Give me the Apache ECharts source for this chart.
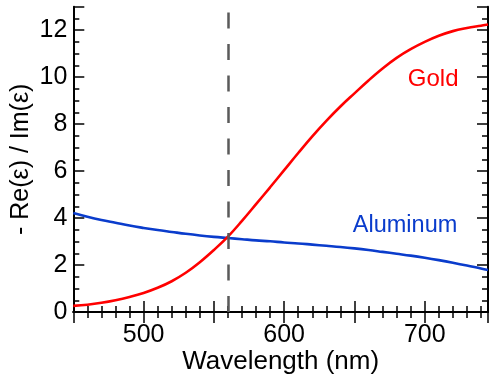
<!DOCTYPE html>
<html>
<head>
<meta charset="utf-8">
<script src="https://cdn.jsdelivr.net/npm/echarts@6/dist/echarts.min.js"></script>
<style>html,body{margin:0;padding:0;background:#fff;}#c{width:491px;height:385px;}</style>
</head>
<body>
<div id="c"></div>
<script>
const wavelengths = [450,460,470,480,490,500,510,520,530,540,550,560,570,580,590,600,610,620,630,640,650,660,670,680,690,700,710,720,730,740,745];
const gold = [0.26,0.31,0.39,0.50,0.64,0.81,1.03,1.31,1.67,2.12,2.64,3.21,3.88,4.59,5.31,6.04,6.77,7.48,8.14,8.75,9.31,9.86,10.37,10.82,11.19,11.50,11.76,11.96,12.09,12.19,12.24];
const aluminum = [4.22,4.06,3.92,3.80,3.68,3.58,3.49,3.41,3.33,3.26,3.20,3.15,3.10,3.05,3.01,2.96,2.92,2.87,2.82,2.77,2.71,2.64,2.56,2.48,2.40,2.31,2.21,2.10,1.98,1.85,1.79];
const markerWavelength = 560;
const xTickLabels = [500,600,700];
const yTickLabels = [0,2,4,6,8,10,12];

const FONT = "'Liberation Sans', Arial, sans-serif";
const RED = '#ff0000';
const BLUE = '#0a3ccc';

const baseAxisLine = {lineStyle:{color:'#000', width:2}};
const baseTick = {inside:true, length:11, lineStyle:{color:'#000', width:1.5}};
const baseMinor = {show:true, length:6, lineStyle:{color:'#000', width:1.5}};

const chart = echarts.init(document.getElementById('c'), null, {renderer:'canvas'});
chart.setOption({
  animation:false,
  backgroundColor:'#fff',
  grid:{left:73.3, right:1, top:6.7, bottom:73, containLabel:false},
  xAxis:[{
    type:'value', min:450, max:745, interval:50, position:'bottom',
    name:'Wavelength (nm)', nameLocation:'middle', nameGap:37, nameMoveOverlap:false,
    nameTextStyle:{fontFamily:FONT, fontSize:26, color:'#000'},
    axisLine:baseAxisLine, axisTick:baseTick,
    minorTick:Object.assign({splitNumber:5}, baseMinor),
    splitLine:{show:false},
    axisLabel:{fontFamily:FONT, fontSize:25, color:'#000', margin:11,
      formatter:v => xTickLabels.includes(v) ? String(v) : ''}
  },{
    type:'value', min:450, max:745, interval:50, position:'top',
    axisLine:baseAxisLine, axisTick:baseTick,
    minorTick:Object.assign({splitNumber:5}, baseMinor),
    splitLine:{show:false}, axisLabel:{show:false}
  }],
  yAxis:[{
    type:'value', min:0, max:13, interval:2, position:'left',
    name:'- Re(ε) / Im(ε)', nameLocation:'middle', nameGap:40, nameMoveOverlap:false,
    nameTextStyle:{fontFamily:FONT, fontSize:25, color:'#000'},
    axisLine:baseAxisLine, axisTick:baseTick,
    minorTick:Object.assign({splitNumber:4}, baseMinor),
    splitLine:{show:false},
    axisLabel:{fontFamily:FONT, fontSize:25, color:'#000', margin:6,
      formatter:v => yTickLabels.includes(v) ? String(v) : ''}
  },{
    type:'value', min:0, max:13, interval:2, position:'right',
    axisLine:baseAxisLine, axisTick:baseTick,
    minorTick:Object.assign({splitNumber:4}, baseMinor),
    splitLine:{show:false}, axisLabel:{show:false}
  }],
  series:[{
    name:'Gold', type:'line', xAxisIndex:0, yAxisIndex:0,
    data:wavelengths.map((w,i)=>[w,gold[i]]),
    showSymbol:false, smooth:0.4, lineStyle:{color:RED, width:2.6}, z:3,
    markPoint:{symbol:'circle', symbolSize:0, silent:true,
      data:[{coord:[706,9.9], label:{show:true, formatter:'Gold', color:RED, fontFamily:FONT, fontSize:24, position:'inside'}}]}
  },{
    name:'Aluminum', type:'line', xAxisIndex:0, yAxisIndex:0,
    data:wavelengths.map((w,i)=>[w,aluminum[i]]),
    showSymbol:false, smooth:0.4, lineStyle:{color:BLUE, width:2.6}, z:2,
    markPoint:{symbol:'circle', symbolSize:0, silent:true,
      data:[{coord:[686,3.7], label:{show:true, formatter:'Aluminum', color:BLUE, fontFamily:FONT, fontSize:23.5, position:'inside'}}]},
    markLine:{symbol:'none', silent:true, label:{show:false},
      lineStyle:{color:'#5a5a5a', width:2.5, type:[16,15.5]},
      data:[{xAxis:markerWavelength}]}
  }]
});
</script>
</body>
</html>
